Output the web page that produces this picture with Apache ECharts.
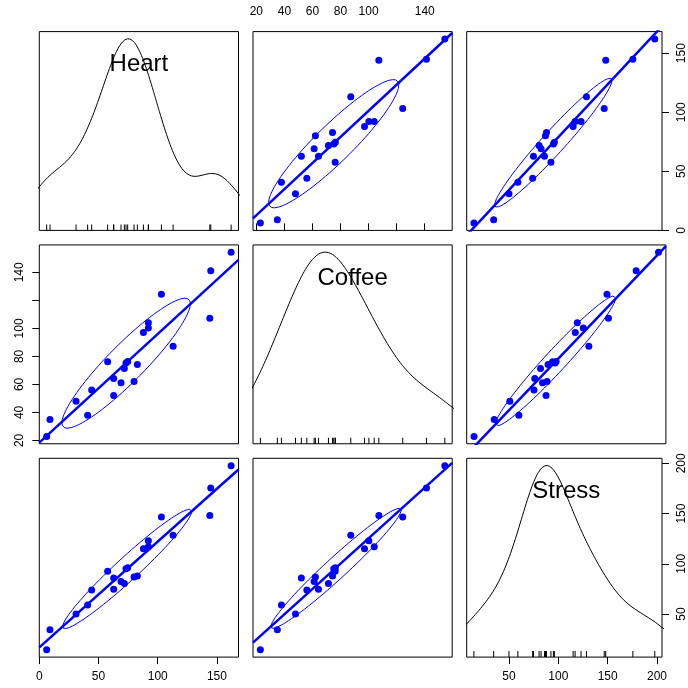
<!DOCTYPE html>
<html><head><meta charset="utf-8">
<script src="https://cdn.jsdelivr.net/npm/echarts@6/dist/echarts.min.js"></script>
<style>html,body{margin:0;padding:0;background:#fff}#c{width:688px;height:688px}</style>
</head><body><div id="c"></div>
<script>
// ---------- data ----------
const varNames = ['Heart', 'Coffee', 'Stress'];
const heart  = [6.2, 9.0, 31.0, 40.8, 44.2, 57.7, 62.8, 62.8, 69.0, 71.8, 73.2, 74.6, 80.0, 82.8, 87.9, 92.1, 92.1, 103.1, 113.0, 144.0, 144.8, 162.0];
const coffee = [22.9, 35.0, 47.9, 37.9, 56.0, 76.2, 52.1, 64.3, 61.2, 71.4, 75.2, 76.3, 62.1, 74.3, 97.1, 100.2, 104.0, 124.3, 87.3, 107.3, 141.2, 154.3];
const stress = [14.5, 34.5, 50.0, 59.0, 74.0, 92.5, 86.0, 74.8, 82.5, 80.5, 95.0, 96.0, 87.0, 88.0, 115.0, 123.0, 117.0, 146.5, 128.5, 148.0, 175.5, 197.7];
const heartTicks = [0, 50, 100, 150];
const coffeeTicks = [20, 40, 60, 80, 100, 120, 140];
const coffeeTickLabels = ['20', '40', '60', '80', '100', '', '140'];
const stressTicks = [50, 100, 150, 200];
const densityAdjust = [1.4, 1.3, 1.3]; // kernel bandwidth multipliers (Heart, Coffee, Stress)
const ellipseLevel = 0.72;             // data-ellipse coverage level (robust centre/scatter)

// ---------- helpers ----------
const vars = [heart, coffee, stress];
const ticks = [heartTicks, coffeeTicks, stressTicks];
const tickLabels = [heartTicks.map(String), coffeeTickLabels, stressTicks.map(String)];
const n = heart.length;
const sum = a => a.reduce((s, v) => s + v, 0);
const mean = a => sum(a) / a.length;
const cov = (a, b) => { const ma = mean(a), mb = mean(b); let s = 0; for (let i = 0; i < a.length; i++) s += (a[i] - ma) * (b[i] - mb); return s / (a.length - 1); };
function range(a) { const lo = Math.min(...a), hi = Math.max(...a), d = hi - lo; return [lo - 0.04 * d, hi + 0.04 * d]; }
function quantile(a, p) { const s = [...a].sort((x, y) => x - y); const h = (s.length - 1) * p; const lo = Math.floor(h); return s[lo] + (h - lo) * ((s[Math.min(lo + 1, s.length - 1)]) - s[lo]); }
const dnorm = z => Math.exp(-0.5 * z * z) / Math.sqrt(2 * Math.PI);
function density(x, adjust) {
  const sd = Math.sqrt(cov(x, x));
  const iqr = quantile(x, 0.75) - quantile(x, 0.25);
  const bw = adjust * 0.9 * Math.min(sd, iqr / 1.34) * Math.pow(x.length, -0.2);
  const lo = Math.min(...x) - 3 * bw, hi = Math.max(...x) + 3 * bw;
  const xs = [], ys = [];
  for (let i = 0; i < 512; i++) {
    const g = lo + (hi - lo) * i / 511;
    let s = 0;
    for (const v of x) s += dnorm((g - v) / bw);
    xs.push(g); ys.push(s / (x.length * bw));
  }
  const mn = Math.min(...x), rx = Math.max(...x) - mn;
  const dmin = Math.min(...ys), dmax = Math.max(...ys);
  return xs.map((g, i) => [g, mn + ys[i] * rx / (dmax - dmin)]);
}
function covTrob(x, y, nu = 5) {
  const m = x.length, p = 2;
  let w = Array(m).fill(1), loc = [mean(x), mean(y)], X = [];
  for (let it = 0; it < 25; it++) {
    const w0 = w.slice();
    X = x.map((v, i) => [v - loc[0], y[i] - loc[1]]);
    const sw = sum(w);
    let s11 = 0, s12 = 0, s22 = 0;
    for (let i = 0; i < m; i++) { s11 += w[i] * X[i][0] * X[i][0]; s12 += w[i] * X[i][0] * X[i][1]; s22 += w[i] * X[i][1] * X[i][1]; }
    s11 /= sw; s12 /= sw; s22 /= sw;
    const det = s11 * s22 - s12 * s12;
    const Q = X.map(([a, b]) => (s22 * a * a - 2 * s12 * a * b + s11 * b * b) / det);
    w = Q.map(q => (nu + p) / (nu + q));
    const sw2 = sum(w);
    loc = [sum(x.map((v, i) => w[i] * v)) / sw2, sum(y.map((v, i) => w[i] * v)) / sw2];
    if (Math.max(...w.map((v, i) => Math.abs(v - w0[i]))) < 0.01) break;
  }
  let c11 = 0, c12 = 0, c22 = 0;
  for (let i = 0; i < m; i++) { c11 += w[i] * X[i][0] * X[i][0]; c12 += w[i] * X[i][0] * X[i][1]; c22 += w[i] * X[i][1] * X[i][1]; }
  return { center: loc, a: c11 / m, b: c12 / m, c: c22 / m };
}
function dataEllipse(x, y, level) {
  const e = covTrob(x, y);
  const d2 = n - 1;
  const qf = (d2 / 2) * (Math.pow(1 - level, -2 / d2) - 1); // F(2, n-1) quantile
  const r = Math.sqrt(2 * qf);
  const l11 = Math.sqrt(e.a), l21 = e.b / l11, l22 = Math.sqrt(e.c - l21 * l21);
  const pts = [];
  for (let i = 0; i <= 100; i++) {
    const t = 2 * Math.PI * i / 100, u = Math.cos(t), v = Math.sin(t);
    pts.push([e.center[0] + r * l11 * u, e.center[1] + r * (l21 * u + l22 * v)]);
  }
  return pts;
}

// ---------- layout ----------
const L0 = 39.3, T0 = 31.6, SX = 213.7, SY = 213.35, PW = 199.2, PH = 198.8;
const FONT = 'Liberation Sans, Arial, Helvetica, sans-serif';
const grids = [], xAxes = [], yAxes = [], series = [], graphics = [];
for (let r = 0; r < 3; r++) {
  for (let c = 0; c < 3; c++) {
    const g = r * 3 + c;
    const left = L0 + c * SX, top = T0 + r * SY;
    grids.push({ left, top, width: PW, height: PH, show: true, borderColor: '#000', borderWidth: 1, backgroundColor: 'transparent' });
    const xr = range(vars[c]), yr = range(vars[r]);
    const xTop = (r === 0 && c === 1);
    const xShow = xTop || (r === 2 && (c === 0 || c === 2));
    const yRight = (c === 2 && (r === 0 || r === 2));
    const yShow = yRight || (c === 0 && r === 1);
    const fmt = k => (v => { const i = ticks[k].findIndex(t => Math.abs(t - v) < 1e-6); return i >= 0 ? tickLabels[k][i] : ''; });
    xAxes.push({ type: 'value', gridIndex: g, min: xr[0], max: xr[1], position: xTop ? 'top' : 'bottom',
      axisLine: { show: false }, splitLine: { show: false },
      axisTick: { show: xShow, length: 7, customValues: ticks[c], lineStyle: { color: '#000', width: 1 } },
      axisLabel: { show: xShow, customValues: ticks[c], formatter: fmt(c), margin: 14, color: '#000', fontSize: 12, fontFamily: FONT, hideOverlap: false } });
    yAxes.push({ type: 'value', gridIndex: g, min: yr[0], max: yr[1], position: yRight ? 'right' : 'left',
      axisLine: { show: false }, splitLine: { show: false },
      axisTick: { show: yShow, length: 7, customValues: ticks[r], lineStyle: { color: '#000', width: 1 } },
      axisLabel: { show: yShow, customValues: ticks[r], formatter: fmt(r), rotate: 90, margin: 14, color: '#000', fontSize: 12, fontFamily: FONT, hideOverlap: false } });
    if (r === c) {
      series.push({ type: 'line', xAxisIndex: g, yAxisIndex: g, data: density(vars[c], densityAdjust[c]), showSymbol: false, symbol: 'none', clip: true, silent: true, lineStyle: { color: '#000', width: 1 } });
      series.push({ type: 'scatter', xAxisIndex: g, yAxisIndex: g, data: vars[c].map(v => [v, yr[0]]), symbol: 'rect', symbolSize: [1, 6], symbolOffset: [0, -3], itemStyle: { color: '#000', opacity: 1 }, clip: false, silent: true });
      graphics.push({ type: 'text', x: left + PW / 2, y: top + 33, z: 100, style: { text: varNames[c], font: '24px ' + FONT, fill: '#000', align: 'center', verticalAlign: 'middle' } });
    } else {
      const xs = vars[c], ys = vars[r];
      const b = cov(xs, ys) / cov(xs, xs), a = mean(ys) - b * mean(xs);
      series.push({ type: 'line', xAxisIndex: g, yAxisIndex: g, data: dataEllipse(xs, ys, ellipseLevel), showSymbol: false, symbol: 'none', clip: true, silent: true, lineStyle: { color: '#0000ff', width: 1 } });
      series.push({ type: 'line', xAxisIndex: g, yAxisIndex: g, data: [[xr[0], a + b * xr[0]], [xr[1], a + b * xr[1]]], showSymbol: false, symbol: 'none', clip: true, silent: true, lineStyle: { color: '#0000ff', width: 2.5 } });
      series.push({ type: 'scatter', xAxisIndex: g, yAxisIndex: g, data: xs.map((v, i) => [v, ys[i]]), symbol: 'circle', symbolSize: 7, itemStyle: { color: '#0000ff', opacity: 1 }, clip: false, silent: true });
    }
  }
}
const chart = echarts.init(document.getElementById('c'));
chart.setOption({ animation: false, backgroundColor: '#fff', grid: grids, xAxis: xAxes, yAxis: yAxes, series, graphic: graphics });
</script>
</body></html>
